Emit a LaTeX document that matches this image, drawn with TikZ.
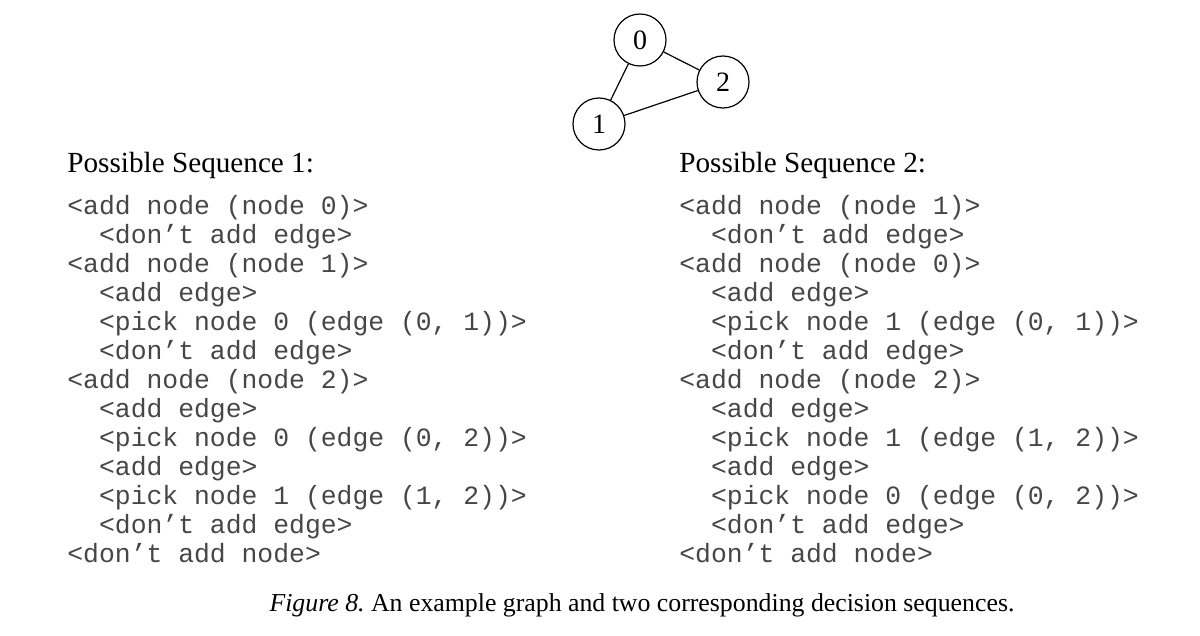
\documentclass[tikz,border=0pt]{standalone}
\usepackage{fontspec}
\setmainfont{Liberation Serif}
\setmonofont{Liberation Mono}
\usetikzlibrary{positioning}
\definecolor{seqGray}{RGB}{70,70,70}
\frenchspacing

\tikzset{
  vertex/.style={draw, circle, minimum size=26pt, inner sep=0pt, line width=0.6pt,
                 font=\fontsize{14}{16}\selectfont},
  seqhead/.style={anchor=base west, inner sep=0pt, font=\fontsize{14.6}{17}\selectfont},
  seqtext/.style={anchor=base west, inner sep=0pt, align=left, text=seqGray,
                  font=\ttfamily\fontsize{13.2}{14.5}\selectfont}
}

\begin{document}
\begin{tikzpicture}[x=0.5pt, y=-0.5pt]
  \useasboundingbox (0,0) rectangle (1200,636);
  % Example graph
  \node[vertex] (n0) at (640,40) {0};
  \node[vertex] (n2) at (723,82) {2};
  \node[vertex] (n1) at (599,124) {1};
  \draw[line width=0.6pt] (n0) -- (n1);
  \draw[line width=0.6pt] (n0) -- (n2);
  \draw[line width=0.6pt] (n1) -- (n2);
  % Sequence 1 (base = last line)
  \node[seqhead] (headA) at (67,173) {Possible Sequence 1:};
  \node[seqtext] (seqA) at (67,562) {%
    <add node (node 0)>\\
    \ \ <don’t add edge>\\
    <add node (node 1)>\\
    \ \ <add edge>\\
    \ \ <pick node 0 (edge (0, 1))>\\
    \ \ <don’t add edge>\\
    <add node (node 2)>\\
    \ \ <add edge>\\
    \ \ <pick node 0 (edge (0, 2))>\\
    \ \ <add edge>\\
    \ \ <pick node 1 (edge (1, 2))>\\
    \ \ <don’t add edge>\\
    <don’t add node>};
  % Sequence 2
  \node[seqhead] (headB) at (679,173) {Possible Sequence 2:};
  \node[seqtext] (seqB) at (679,562) {%
    <add node (node 1)>\\
    \ \ <don’t add edge>\\
    <add node (node 0)>\\
    \ \ <add edge>\\
    \ \ <pick node 1 (edge (0, 1))>\\
    \ \ <don’t add edge>\\
    <add node (node 2)>\\
    \ \ <add edge>\\
    \ \ <pick node 1 (edge (1, 2))>\\
    \ \ <add edge>\\
    \ \ <pick node 0 (edge (0, 2))>\\
    \ \ <don’t add edge>\\
    <don’t add node>};
  % Caption
  \node[anchor=base, inner sep=0pt, font=\fontsize{12.9}{15}\selectfont] (caption) at (642,611)
    {\textit{Figure 8.} An example graph and two corresponding decision sequences.};
\end{tikzpicture}
\end{document}
